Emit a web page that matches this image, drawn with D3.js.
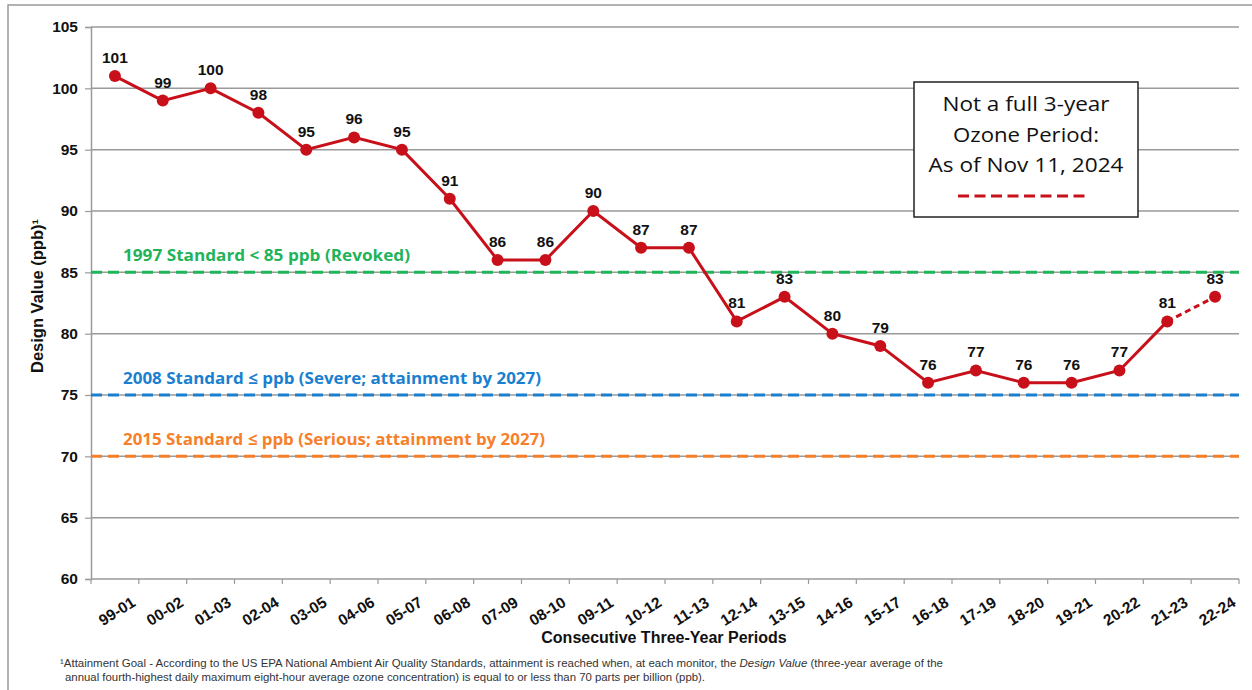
<!DOCTYPE html>
<html>
<head>
<meta charset="utf-8">
<script src="https://cdn.jsdelivr.net/npm/d3@7"></script>
<style>
  body { margin: 0; background: #fff; }
  svg { display: block; }
</style>
</head>
<body>
<div id="chart"></div>
<script>
const periods = [
  "99-01", "00-02", "01-03", "02-04", "03-05", "04-06", "05-07", "06-08",
  "07-09", "08-10", "09-11", "10-12", "11-13", "12-14", "13-15", "14-16",
  "15-17", "16-18", "17-19", "18-20", "19-21", "20-22", "21-23", "22-24",
];
const designValues = [
  101, 99, 100, 98, 95, 96, 95, 91, 86, 86, 90, 87,
  87, 81, 83, 80, 79, 76, 77, 76, 76, 77, 81, 83,
];
const yTicks = [60, 65, 70, 75, 80, 85, 90, 95, 100, 105];
const standardValues = [85, 75, 70];
const standardLabels = [
  "1997 Standard < 85 ppb (Revoked)",
  "2008 Standard ≤ ppb (Severe; attainment by 2027)",
  "2015 Standard ≤ ppb (Serious; attainment by 2027)",
];
const standardColors = ["#1fb35a", "#1b7fd0", "#f6802a"];
const standardLabelWidths = [287, 418, 422];
const legendLines = ["Not a full 3-year", "Ozone Period:", "As of Nov 11, 2024"];
const legendWidths = [167, 146, 195];

const W = 1252, H = 690;
const margin = { top: 27, left: 91 };
const width = 1148, height = 552;
const red = "#c8101a";
const gridColor = "#9a9a9a";
const arial = "'Liberation Sans', Arial, sans-serif";

const svgRoot = d3.select("#chart").append("svg")
  .attr("width", W).attr("height", H);

// outer frame
svgRoot.append("path")
  .attr("d", "M8,690 L8,5 L1252,5")
  .attr("fill", "none").attr("stroke", "#9a9a9a").attr("stroke-width", 1.5);

const svg = svgRoot.append("g").attr("transform", `translate(${margin.left},${margin.top})`);

const x = d3.scaleBand().domain(periods).range([0, width]);
const xc = d => x(d) + x.bandwidth() / 2;
const y = d3.scaleLinear().domain([60, 105]).range([height, 0]);

// gridlines
svg.append("g")
  .selectAll("line")
  .data(yTicks.filter(t => t > 60))
  .enter().append("line")
  .attr("x1", 0).attr("x2", width)
  .attr("y1", d => y(d)).attr("y2", d => y(d))
  .attr("stroke", gridColor).attr("stroke-width", 1.5);

// y axis
const yAxis = svg.append("g")
  .call(d3.axisLeft(y).tickValues(yTicks).tickSize(6).tickPadding(7));
yAxis.select(".domain").attr("stroke", gridColor).attr("stroke-width", 1.5);
yAxis.selectAll(".tick line").attr("stroke", gridColor).attr("stroke-width", 1.2);
yAxis.selectAll("text")
  .style("font-family", arial)
  .style("font-weight", "bold")
  .style("font-size", "15.5px")
  .attr("fill", "#111");

// x axis with ticks between categories
const xAxis = svg.append("g").attr("transform", `translate(0,${height})`);
xAxis.append("line")
  .attr("x1", 0).attr("x2", width)
  .attr("stroke", gridColor).attr("stroke-width", 1.5);
xAxis.selectAll(".xtick")
  .data(periods.concat(["end"]))
  .enter().append("line")
  .attr("class", "xtick")
  .attr("x1", (d, i) => i * x.bandwidth())
  .attr("x2", (d, i) => i * x.bandwidth())
  .attr("y1", 0).attr("y2", 5)
  .attr("stroke", gridColor).attr("stroke-width", 1.2);
xAxis.selectAll(".xlabel")
  .data(periods)
  .enter().append("text")
  .attr("class", "xlabel")
  .attr("transform", d => `translate(${xc(d) + 2},${32}) rotate(-32)`)
  .attr("text-anchor", "middle")
  .attr("dominant-baseline", "central")
  .style("font-family", arial)
  .style("font-weight", "bold")
  .style("font-size", "15.5px")
  .attr("fill", "#111")
  .text(d => d);

// standard lines and their labels
standardValues.forEach((v, i) => {
  svg.append("line")
    .attr("x1", 0).attr("x2", width)
    .attr("y1", y(v)).attr("y2", y(v))
    .attr("stroke", standardColors[i])
    .attr("stroke-width", 3)
    .attr("stroke-dasharray", "11 6");
  svg.append("text")
    .attr("x", 32)
    .attr("y", y(v) - 11)
    .attr("textLength", standardLabelWidths[i])
    .attr("lengthAdjust", "spacingAndGlyphs")
    .style("font-family", "'Open Sans', 'Noto Sans', sans-serif")
    .style("font-weight", "bold")
    .style("font-size", "16.5px")
    .attr("fill", standardColors[i])
    .text(standardLabels[i]);
});

// data line: solid through 21-23, dashed for the partial period
const pts = periods.map((p, i) => ({ p, v: designValues[i] }));
const line = d3.line().x(d => xc(d.p)).y(d => y(d.v));
svg.append("path")
  .datum(pts.slice(0, pts.length - 1))
  .attr("d", line)
  .attr("fill", "none").attr("stroke", red).attr("stroke-width", 3);
svg.append("path")
  .datum(pts.slice(pts.length - 2))
  .attr("d", line)
  .attr("fill", "none").attr("stroke", red).attr("stroke-width", 3)
  .attr("stroke-dasharray", "6 4");

svg.selectAll(".dot")
  .data(pts)
  .enter().append("circle")
  .attr("class", "dot")
  .attr("cx", d => xc(d.p)).attr("cy", d => y(d.v))
  .attr("r", 6)
  .attr("fill", red);

svg.selectAll(".val")
  .data(pts)
  .enter().append("text")
  .attr("class", "val")
  .attr("x", d => xc(d.p))
  .attr("y", d => y(d.v) - 13)
  .attr("text-anchor", "middle")
  .style("font-family", arial)
  .style("font-weight", "bold")
  .style("font-size", "15.5px")
  .attr("fill", "#111")
  .text(d => d.v);

// axis titles
svgRoot.append("text")
  .attr("transform", "translate(43,296) rotate(-90)")
  .attr("text-anchor", "middle")
  .style("font-family", arial)
  .style("font-weight", "bold")
  .style("font-size", "16.5px")
  .attr("fill", "#111")
  .text("Design Value (ppb)¹");

svgRoot.append("text")
  .attr("x", 664).attr("y", 643)
  .attr("text-anchor", "middle")
  .style("font-family", arial)
  .style("font-weight", "bold")
  .style("font-size", "16px")
  .attr("fill", "#111")
  .text("Consecutive Three-Year Periods");

// legend box
const lg = svgRoot.append("g");
lg.append("rect")
  .attr("x", 914).attr("y", 82).attr("width", 224).attr("height", 135)
  .attr("fill", "#fff").attr("stroke", "#222").attr("stroke-width", 1.5);
lg.selectAll("text")
  .data(legendLines)
  .enter().append("text")
  .attr("x", 1026)
  .attr("y", (d, i) => 111 + i * 30.5)
  .attr("text-anchor", "middle")
  .attr("textLength", (d, i) => legendWidths[i])
  .attr("lengthAdjust", "spacingAndGlyphs")
  .style("font-family", "'Open Sans', 'Noto Sans', sans-serif")
  .style("font-size", "20px")
  .attr("fill", "#111")
  .text(d => d);
lg.append("line")
  .attr("x1", 958).attr("x2", 1087).attr("y1", 196).attr("y2", 196)
  .attr("stroke", red).attr("stroke-width", 3)
  .attr("stroke-dasharray", "11 5.5");

// footnote
const fn = svgRoot.append("g")
  .style("font-family", arial)
  .style("font-size", "10.5px")
  .attr("fill", "#333");
const f1 = fn.append("text")
  .attr("x", 60).attr("y", 667)
  .attr("textLength", 883)
  .attr("lengthAdjust", "spacingAndGlyphs");
f1.append("tspan").text("¹Attainment Goal - According to the US EPA National Ambient Air Quality Standards, attainment is reached when, at each monitor, the ");
f1.append("tspan").style("font-style", "italic").text("Design Value");
f1.append("tspan").text(" (three-year average of the");
fn.append("text")
  .attr("x", 65).attr("y", 681)
  .attr("textLength", 640)
  .attr("lengthAdjust", "spacingAndGlyphs")
  .text("annual fourth-highest daily maximum eight-hour average ozone concentration) is equal to or less than 70 parts per billion (ppb).");
</script>
</body>
</html>
